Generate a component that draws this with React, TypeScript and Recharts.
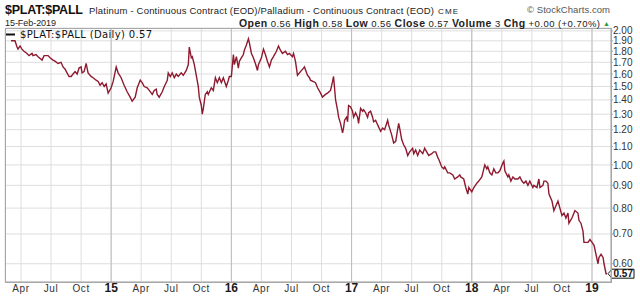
import { CartesianGrid, Line, LineChart, ReferenceLine, XAxis, YAxis } from "recharts";

// decimal-year time stamps and $PLAT:$PALL ratio
const t2014 = [
  2014.167, 2014.2, 2014.217, 2014.225, 2014.242, 2014.258, 2014.275, 2014.3, 2014.317, 2014.342,
  2014.35, 2014.375, 2014.392, 2014.425, 2014.442, 2014.475, 2014.492, 2014.517, 2014.533, 2014.558,
  2014.583, 2014.6, 2014.617, 2014.633, 2014.65, 2014.667, 2014.683, 2014.7, 2014.717, 2014.733,
  2014.75, 2014.758, 2014.775, 2014.792, 2014.808, 2014.833, 2014.85, 2014.875, 2014.892, 2014.908,
  2014.925, 2014.942, 2014.958, 2014.975,
];
const r2014 = [
  1.9, 1.9, 1.84, 1.82, 1.85, 1.82, 1.8, 1.78, 1.76, 1.78,
  1.76, 1.77, 1.75, 1.72, 1.76, 1.76, 1.74, 1.72, 1.71, 1.69,
  1.7, 1.66, 1.64, 1.61, 1.58, 1.58, 1.6, 1.62, 1.6, 1.65,
  1.66, 1.61, 1.62, 1.69, 1.61, 1.58, 1.57, 1.55, 1.54, 1.51,
  1.53, 1.5, 1.52, 1.45,
];

const t2015 = [
  2015.0, 2015.017, 2015.042, 2015.058, 2015.083, 2015.108, 2015.133, 2015.158, 2015.175, 2015.2,
  2015.217, 2015.242, 2015.258, 2015.275, 2015.3, 2015.317, 2015.342, 2015.358, 2015.375, 2015.383,
  2015.4, 2015.425, 2015.442, 2015.467, 2015.475, 2015.492, 2015.508, 2015.525, 2015.542, 2015.558,
  2015.583, 2015.6, 2015.625, 2015.642, 2015.65, 2015.667, 2015.675, 2015.692, 2015.708, 2015.725,
  2015.733, 2015.75, 2015.758, 2015.767, 2015.783, 2015.8, 2015.808, 2015.833, 2015.85, 2015.867,
  2015.883, 2015.9, 2015.917, 2015.933, 2015.958, 2015.975, 2015.983,
];
const r2015 = [
  1.49, 1.54, 1.66, 1.61, 1.57, 1.51, 1.46, 1.42, 1.39, 1.42,
  1.49, 1.55, 1.53, 1.5, 1.49, 1.47, 1.44, 1.47, 1.48, 1.44,
  1.42, 1.46, 1.5, 1.55, 1.61, 1.58, 1.61, 1.57, 1.6, 1.58,
  1.61, 1.59, 1.63, 1.68, 1.84, 1.74, 1.75, 1.68, 1.59, 1.5,
  1.42, 1.36, 1.3, 1.34, 1.44, 1.46, 1.44, 1.49, 1.47, 1.57,
  1.53, 1.57, 1.53, 1.57, 1.5, 1.55, 1.58,
];

const t2016 = [
  2016.0, 2016.017, 2016.025, 2016.042, 2016.058, 2016.067, 2016.083, 2016.1, 2016.108, 2016.125,
  2016.142, 2016.15, 2016.167, 2016.183, 2016.2, 2016.217, 2016.225, 2016.25, 2016.267, 2016.283,
  2016.3, 2016.317, 2016.333, 2016.35, 2016.375, 2016.392, 2016.408, 2016.425, 2016.45, 2016.467,
  2016.483, 2016.508, 2016.517, 2016.533, 2016.55, 2016.575, 2016.6, 2016.608, 2016.633, 2016.65,
  2016.658, 2016.7, 2016.717, 2016.742, 2016.758, 2016.783, 2016.8, 2016.825, 2016.842, 2016.85,
  2016.867, 2016.883, 2016.892, 2016.908, 2016.925, 2016.933, 2016.942, 2016.958, 2016.967, 2016.975,
  2016.992,
];
const r2016 = [
  1.58, 1.77, 1.68, 1.75, 1.65, 1.71, 1.74, 1.77, 1.81, 1.86,
  1.92, 1.88, 1.78, 1.74, 1.69, 1.63, 1.68, 1.74, 1.82, 1.77,
  1.71, 1.66, 1.72, 1.75, 1.8, 1.85, 1.81, 1.78, 1.8, 1.77,
  1.78, 1.75, 1.78, 1.71, 1.59, 1.62, 1.65, 1.66, 1.59, 1.57,
  1.55, 1.53, 1.49, 1.45, 1.42, 1.44, 1.45, 1.47, 1.54, 1.58,
  1.4, 1.33, 1.28, 1.24, 1.18, 1.21, 1.26, 1.28, 1.25, 1.36,
  1.35,
];

const t2017 = [
  2017.008, 2017.017, 2017.033, 2017.05, 2017.058, 2017.075, 2017.092, 2017.1, 2017.117, 2017.133,
  2017.142, 2017.158, 2017.175, 2017.183, 2017.2, 2017.217, 2017.242, 2017.258, 2017.275, 2017.3,
  2017.308, 2017.333, 2017.35, 2017.367, 2017.383, 2017.392, 2017.4, 2017.417, 2017.433, 2017.45,
  2017.467, 2017.483, 2017.508, 2017.517, 2017.533, 2017.55, 2017.567, 2017.592, 2017.608, 2017.625,
  2017.642, 2017.667, 2017.683, 2017.7, 2017.717, 2017.725, 2017.75, 2017.767, 2017.775, 2017.8,
  2017.817, 2017.842, 2017.858, 2017.883, 2017.9, 2017.908, 2017.933, 2017.95, 2017.967, 2017.975,
];
const r2017 = [
  1.32, 1.28, 1.31, 1.28, 1.24, 1.34, 1.32, 1.33, 1.31, 1.28,
  1.31, 1.32, 1.28, 1.25, 1.26, 1.23, 1.19, 1.21, 1.2, 1.26,
  1.23, 1.17, 1.12, 1.13, 1.2, 1.24, 1.21, 1.14, 1.11, 1.09,
  1.05, 1.07, 1.09, 1.06, 1.08, 1.05, 1.08, 1.06, 1.09, 1.07,
  1.05, 1.06, 1.07, 1.07, 1.04, 1.03, 0.99, 0.98, 0.99, 0.96,
  0.96, 0.95, 0.93, 0.94, 0.95, 0.94, 0.93, 0.89, 0.86, 0.89,
];

const t2018 = [
  2018.0, 2018.017, 2018.042, 2018.058, 2018.083, 2018.092, 2018.108, 2018.125, 2018.133, 2018.15,
  2018.167, 2018.183, 2018.2, 2018.217, 2018.233, 2018.258, 2018.267, 2018.275, 2018.3, 2018.308,
  2018.325, 2018.342, 2018.358, 2018.383, 2018.4, 2018.417, 2018.433, 2018.45, 2018.467, 2018.483,
  2018.508, 2018.517, 2018.542, 2018.558, 2018.567, 2018.592, 2018.6, 2018.617, 2018.633, 2018.642,
  2018.667, 2018.683, 2018.7, 2018.717, 2018.733, 2018.75, 2018.767, 2018.783, 2018.8, 2018.808,
  2018.833, 2018.85, 2018.858, 2018.883, 2018.892, 2018.908, 2018.925, 2018.933, 2018.95, 2018.967,
  2018.983,
];
const r2018 = [
  0.87, 0.89, 0.91, 0.92, 0.94, 0.96, 1.0, 0.98, 0.99, 0.96,
  0.95, 0.98, 0.96, 0.96, 0.97, 1.01, 1.02, 0.97, 0.94, 0.95,
  0.92, 0.94, 0.93, 0.93, 0.94, 0.92, 0.91, 0.92, 0.9, 0.92,
  0.89, 0.9, 0.89, 0.93, 0.89, 0.9, 0.92, 0.92, 0.91, 0.86,
  0.83, 0.79, 0.81, 0.83, 0.8, 0.77, 0.78, 0.76, 0.78, 0.74,
  0.76, 0.78, 0.79, 0.78, 0.75, 0.74, 0.71, 0.67, 0.67, 0.67,
  0.68,
];

const t2019 = [2019.0, 2019.017, 2019.033, 2019.05, 2019.058, 2019.075, 2019.092, 2019.1, 2019.117, 2019.125];
const r2019 = [0.67, 0.66, 0.63, 0.6, 0.62, 0.63, 0.62, 0.6, 0.57, 0.57];

const quarterTicks = [
  2014.25, 2014.5, 2014.75, 2015, 2015.25, 2015.5, 2015.75, 2016, 2016.25, 2016.5, 2016.75,
  2017, 2017.25, 2017.5, 2017.75, 2018, 2018.25, 2018.5, 2018.75, 2019,
];
const quarterLabels = [
  "Apr", "Jul", "Oct", "15", "Apr", "Jul", "Oct", "16", "Apr", "Jul", "Oct",
  "17", "Apr", "Jul", "Oct", "18", "Apr", "Jul", "Oct", "19",
];
const yearTicks = [2015, 2016, 2017, 2018, 2019];
const priceTicks = [0.6, 0.7, 0.8, 0.9, 1.0, 1.1, 1.2, 1.3, 1.4, 1.5, 1.6, 1.7, 1.8, 1.9, 2.0];
const lastClose = 0.57;

const times = [...t2014, ...t2015, ...t2016, ...t2017, ...t2018, ...t2019];
const ratios = [...r2014, ...r2015, ...r2016, ...r2017, ...r2018, ...r2019];
const data = times.map((t, i) => ({ t, ratio: ratios[i] }));

const W = 640;
const H = 299;
const LEFT = 5;
const TOP = 28;
const AXIS_W = 29;
const AXIS_H = 17;
const FONT = "'Liberation Sans', Arial, sans-serif";
const LINE = "#8e1a30";

function QuarterTick({ x, y, payload }: any) {
  const i = quarterTicks.indexOf(payload.value);
  const year = yearTicks.includes(payload.value);
  return (
    <text
      x={x}
      y={y + (year ? 10 : 9.5)}
      textAnchor="middle"
      fontFamily={FONT}
      fontSize={year ? 12 : 10}
      fontWeight={year ? 700 : 400}
      letterSpacing={year ? 0 : 0.6}
      fill={year ? "#1a1a1a" : "#333"}
    >
      {quarterLabels[i]}
    </text>
  );
}

// boxed last-value tag pointing at the right axis
function LastTag(props: any) {
  const vb = props.viewBox;
  const x = vb.x + vb.width;
  const y = vb.y;
  return (
    <g>
      <polygon
        points={`${x - 3},${y} ${x + 1},${y - 4.5} ${x + 23},${y - 4.5} ${x + 23},${y + 4.5} ${x + 1},${y + 4.5}`}
        fill="#fff"
        stroke="#111"
        strokeWidth={1}
      />
      <text x={x + 2.5} y={y + 3.6} fontFamily={FONT} fontSize={10} fontWeight={700} fill="#111">
        {lastClose.toFixed(2)}
      </text>
    </g>
  );
}

export default function App() {
  const plotW = W - LEFT - AXIS_W;
  const plotH = H - TOP - AXIS_H;
  return (
    <div style={{ position: "fixed", left: 0, top: 0, width: W, height: H, background: "#fff" }}>
      <LineChart
        width={W}
        height={H}
        data={data}
        margin={{ top: TOP, right: 0, bottom: 0, left: LEFT }}
      >
        <CartesianGrid stroke="#dedede" strokeWidth={1} />
        <XAxis
          type="number"
          dataKey="t"
          domain={[2014.117, 2019.158]}
          allowDataOverflow
          ticks={quarterTicks}
          interval={0}
          tick={<QuarterTick />}
          tickLine={false}
          tickSize={0}
          tickMargin={0}
          axisLine={{ stroke: "#a8a8a8" }}
          height={AXIS_H}
        />
        <YAxis
          orientation="right"
          scale="log"
          domain={[0.546, 2.03]}
          allowDataOverflow
          ticks={priceTicks}
          interval={0}
          tickFormatter={(v) => Number(v).toFixed(2)}
          tick={{ fontSize: 10, fill: "#333", fontFamily: FONT }}
          tickSize={2}
          tickMargin={0}
          tickLine={{ stroke: "#a8a8a8" }}
          axisLine={{ stroke: "#a8a8a8" }}
          width={AXIS_W}
        />
        {yearTicks.map((yr) => (
          <ReferenceLine key={yr} x={yr} stroke="#bdbdbd" strokeWidth={1} />
        ))}
        <Line
          type="linear"
          dataKey="ratio"
          stroke={LINE}
          strokeWidth={1.4}
          dot={false}
          isAnimationActive={false}
        />
        <ReferenceLine y={lastClose} stroke="none" label={(p: any) => <LastTag {...p} />} />
      </LineChart>

      <svg
        width={W}
        height={H}
        style={{ position: "absolute", left: 0, top: 0, pointerEvents: "none" }}
      >
        <rect x={LEFT + 0.5} y={TOP + 0.5} width={plotW} height={plotH} fill="none" stroke="#a8a8a8" />
        <text x={5} y={14} fontFamily={FONT} fontSize={12.5} fontWeight={700} fill="#111" textLength={78}>
          $PLAT:$PALL
        </text>
        <text x={89} y={13.5} fontFamily={FONT} fontSize={9.5} fill="#222" textLength={345}>
          Platinum - Continuous Contract (EOD)/Palladium - Continuous Contract (EOD)
        </text>
        <text x={438} y={13.5} fontFamily={FONT} fontSize={8} fill="#222" textLength={20}>
          CME
        </text>
        <text x={527} y={13} fontFamily={FONT} fontSize={9.5} fill="#555" textLength={83}>
          © StockCharts.com
        </text>
        <text x={5} y={26} fontFamily={FONT} fontSize={9} fill="#222" textLength={51}>
          15-Feb-2019
        </text>
        <text x={239} y={26.5} fontFamily={FONT} fontSize={9.5} fill="#222" textLength={361}>
          <tspan fontWeight={700} fontSize={10.5}>Open</tspan> 0.56{" "}
          <tspan fontWeight={700} fontSize={10.5}>High</tspan> 0.58{" "}
          <tspan fontWeight={700} fontSize={10.5}>Low</tspan> 0.56{" "}
          <tspan fontWeight={700} fontSize={10.5}>Close</tspan> 0.57{" "}
          <tspan fontWeight={700} fontSize={10.5}>Volume</tspan> 3{" "}
          <tspan fontWeight={700} fontSize={10.5}>Chg</tspan> +0.00 (+0.70%)
        </text>
        <text x={603} y={25.5} fontFamily={FONT} fontSize={7} fill="#2e9b3a">
          ▲
        </text>
        <line x1={6} x2={15} y1={34.5} y2={34.5} stroke="#111" strokeWidth={2} />
        <text x={20} y={37.5} fontFamily="'DejaVu Sans', Verdana, sans-serif" fontSize={10} fill="#111" textLength={132}>
          $PLAT:$PALL (Daily) 0.57
        </text>
      </svg>
    </div>
  );
}
